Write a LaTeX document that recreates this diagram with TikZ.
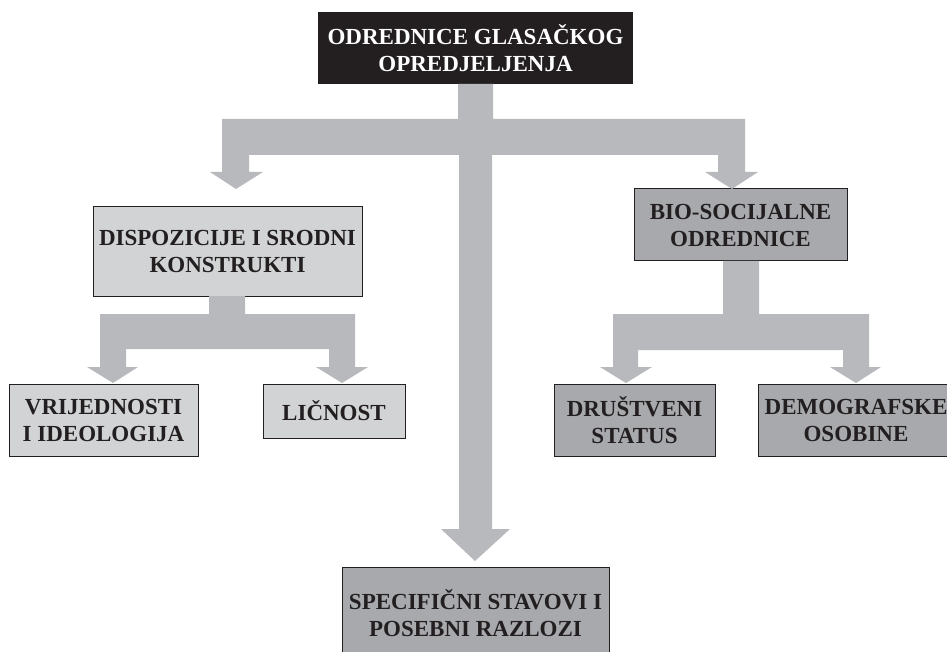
\documentclass[tikz,border=0pt]{standalone}
\usepackage{fontspec}
\setmainfont{Liberation Serif}
\definecolor{boxblack}{HTML}{231F20}
\definecolor{arrowgray}{HTML}{B8B9BC}
\definecolor{lightbox}{HTML}{D1D3D4}
\definecolor{darkbox}{HTML}{A7A9AC}
\begin{document}
\begin{tikzpicture}[x=1pt,y=-1pt,
  lbl/.style={font=\bfseries\fontsize{23}{27}\selectfont, align=center, inner sep=0pt, text=boxblack},
  lightnode/.style={lbl, fill=lightbox, draw=boxblack, line width=1pt},
  darknode/.style={lbl, fill=darkbox, draw=boxblack, line width=1pt},
  topnode/.style={lbl, fill=boxblack, text=white},
  blockarrow/.style={fill=arrowgray, draw=none}]
\useasboundingbox (0,0) rectangle (947,652);

% boxes
\node[topnode, minimum width=315pt, minimum height=72pt] (top) at (475.5,48) {ODREDNICE GLASAČKOG\\OPREDJELJENJA};
\node[lightnode, minimum width=269pt, minimum height=89pt] (disp) at (227.5,251.5) {DISPOZICIJE I SRODNI\\KONSTRUKTI};
\node[darknode, minimum width=213pt, minimum height=72pt] (bio) at (740.5,225) {BIO-SOCIJALNE\\ODREDNICE};
\node[lightnode, minimum width=189pt, minimum height=72pt] (vrij) at (103.5,420) {VRIJEDNOSTI\\I IDEOLOGIJA};
\node[lightnode, minimum width=142pt, minimum height=54pt] (lic) at (334,411) {LIČNOST};
\node[darknode, minimum width=161pt, minimum height=72pt] (drus) at (634.5,420) {DRUŠTVENI\\STATUS};
\node[darknode, minimum width=196pt, minimum height=72pt] (demo) at (856,420) {DEMOGRAFSKE\\OSOBINE};
\node[darknode, minimum width=267pt, minimum height=92pt] (spec) at (475.5,613) {SPECIFIČNI STAVOVI I\\POSEBNI RAZLOZI};

% main block arrows from top
\fill[blockarrow] (458,84) -- (493,84) -- (493,119) -- (745,119) -- (745,172) -- (758,172)
  -- (732,189) -- (705,172) -- (718,172) -- (718,155) -- (492,155) -- (492,529) -- (510,529)
  -- (475,561) -- (441,529) -- (459,529) -- (459,155) -- (249,155) -- (249,172) -- (263,172)
  -- (236,189) -- (210,172) -- (222,172) -- (222,119) -- (458,119) -- cycle;

% dispozicije arrows
\fill[blockarrow] (209,296) -- (245,296) -- (245,314) -- (355,314) -- (355,367) -- (368,367)
  -- (342,383) -- (316,367) -- (329,367) -- (329,349) -- (126,349) -- (126,367) -- (138,367)
  -- (113,383) -- (87,367) -- (100,367) -- (100,314) -- (209,314) -- cycle;

% bio arrows
\fill[blockarrow] (723,261) -- (759,261) -- (759,314) -- (869,314) -- (869,367) -- (881,367)
  -- (856,383) -- (830,367) -- (843,367) -- (843,350) -- (638,350) -- (638,367) -- (652,367)
  -- (626,383) -- (600,367) -- (613,367) -- (613,314) -- (723,314) -- cycle;
\end{tikzpicture}
\end{document}
